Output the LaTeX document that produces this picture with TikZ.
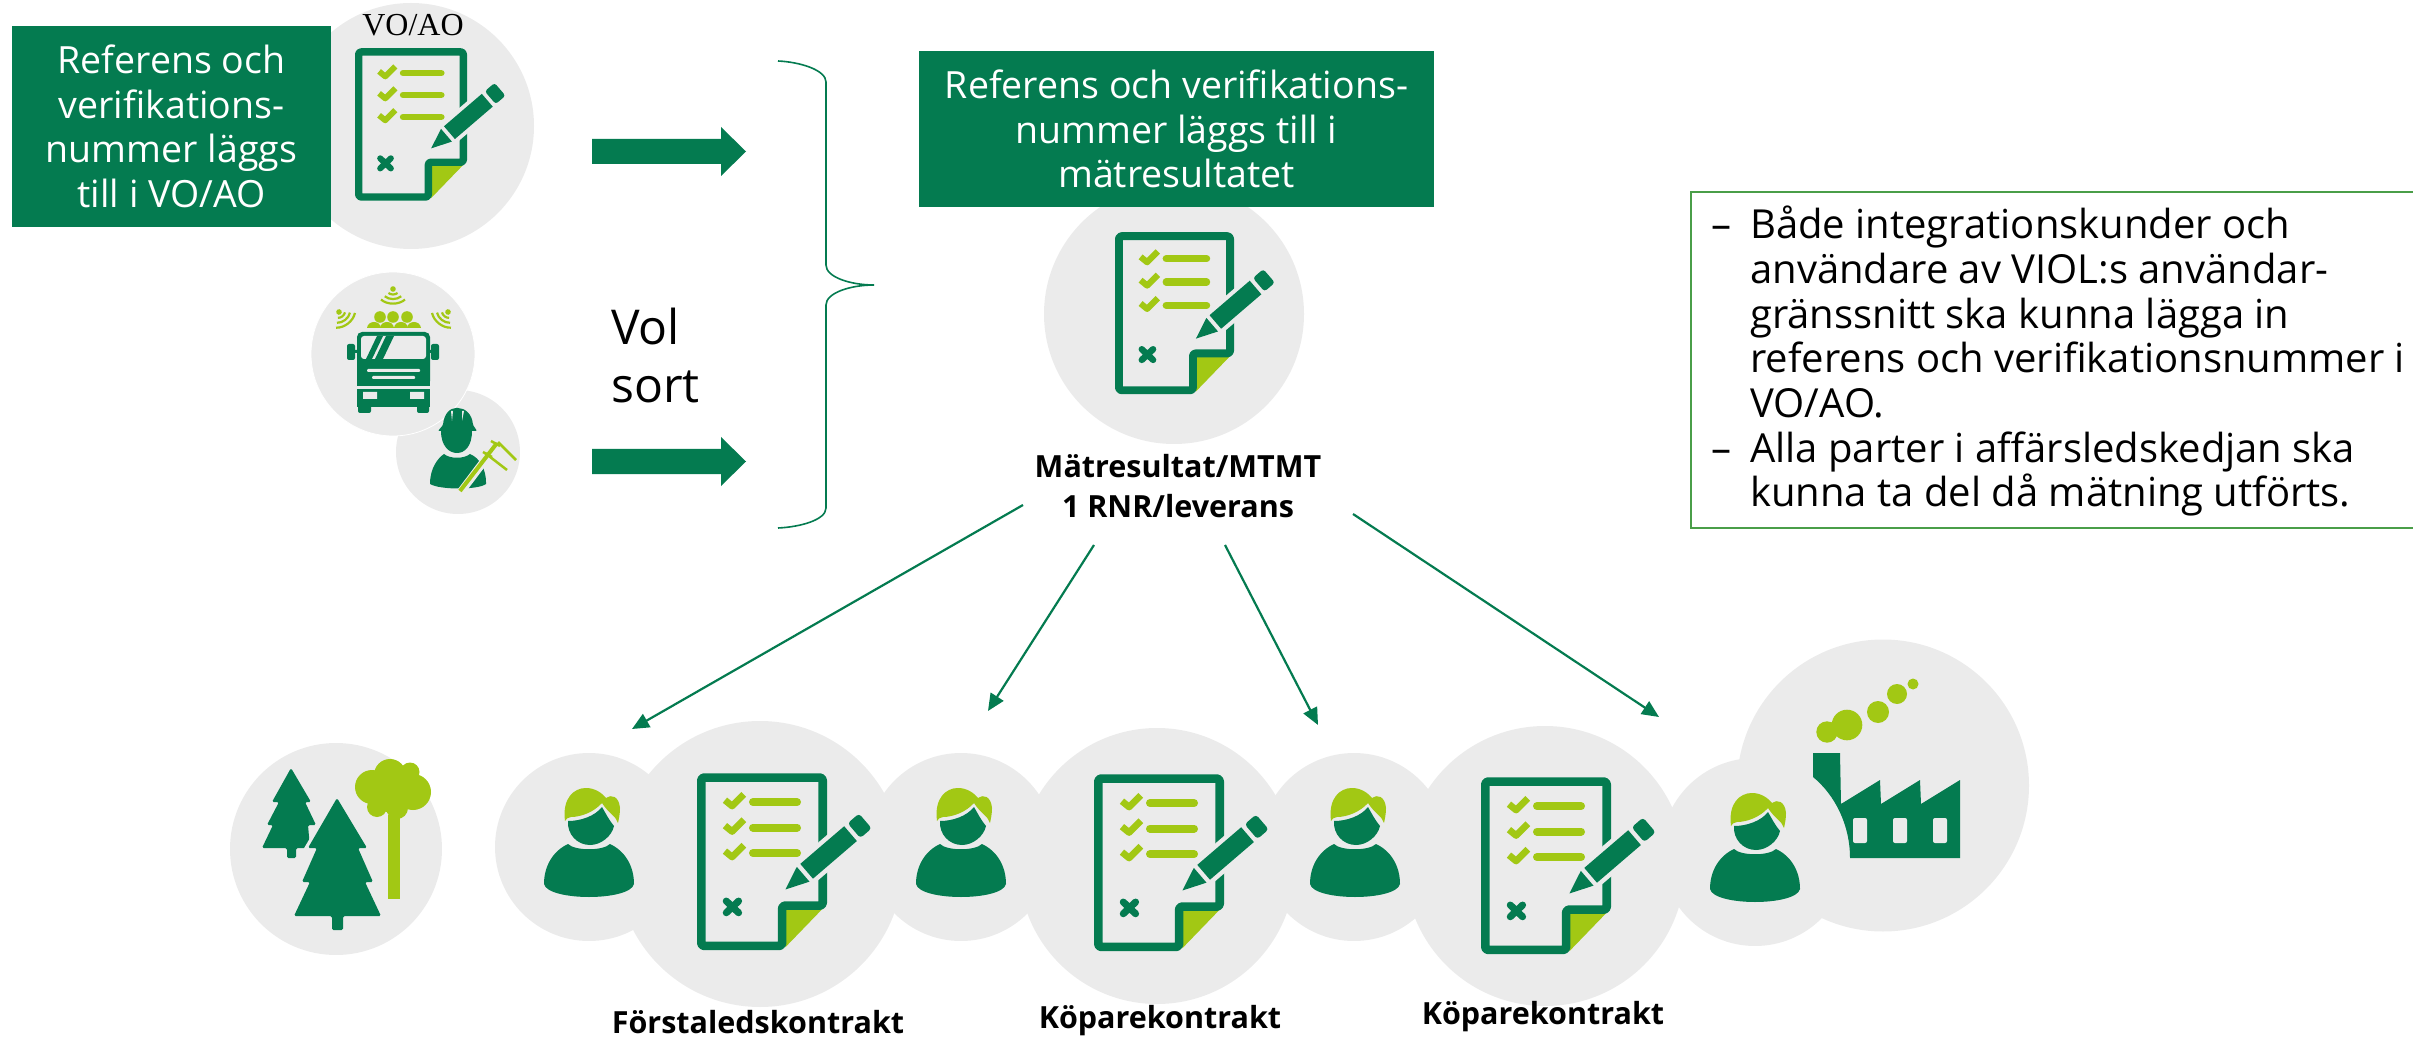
\documentclass[tikz,border=0pt]{standalone}
\usepackage{fontspec}
\setmainfont{Open Sans}
\newfontfamily\serifvo{Liberation Serif}
\usetikzlibrary{arrows.meta}
\definecolor{dgreen}{HTML}{047B50}
\definecolor{lime}{HTML}{A2C814}
\definecolor{lgray}{HTML}{EBEBEB}
\definecolor{boxline}{HTML}{4A9E48}
\tikzset{
  disc/.style={circle,fill=lgray,inner sep=0pt},
  greenbox/.style={fill=dgreen,text=white,inner sep=0pt,align=center,font=\fontsize{37.5}{44.5}\selectfont},
  flow/.style={draw=dgreen,line width=2.2pt,-{Triangle[length=17pt,width=15pt]}},
  blockarrow/.style={fill=dgreen},
  caption/.style={inner sep=0pt,anchor=base,font=\bfseries\fontsize{30.5}{39}\selectfont,align=center},
  sigline/.style={draw=lime,line width=2.2pt},
}
% document icon: #1,#2 top left, #3 scale (width/100)
\newcommand{\docicon}[3]{%
\begin{scope}[shift={(#1,#2)},x=#3pt,y=-#3pt]
  \fill[lime] (67,104) -- (97,104) -- (68,134) -- cycle;
  \draw[dgreen,line width=6.6*#3pt,rounded corners=2.2*#3pt,line join=round]
    (3.3,3.5) -- (96.7,3.5) -- (96.7,102) -- (65.5,102) -- (65.5,133) -- (3.3,133) -- cycle;
  \foreach \v in {22.4,42,61.6}{
    \draw[lime,line width=6*#3pt,line cap=round] (43,\v) -- (77,\v);
    \draw[lime,line width=5.2*#3pt,line join=round] (21.5,\v-1.5) -- (27,\v+3) -- (36,\v-6);
  }
  \draw[dgreen,line width=5.4*#3pt,line cap=round] (22.5,98.5) -- (32,107.5) (32,98.5) -- (22.5,107.5);
  \begin{scope}[shift={(68,89.6)},rotate=40.6]
    \fill[lgray] (-5,0) -- (17,-11) -- (84,-11) -- (84,11) -- (17,11) -- cycle;
    \fill[dgreen] (0,0) -- (18,-7.5) -- (18,7.5) -- cycle;
    \fill[dgreen] (21.5,-7.5) rectangle (66,7.5);
    \fill[dgreen,rounded corners=2.5*#3pt] (69.5,-7.5) rectangle (81,7.5);
  \end{scope}
\end{scope}}
% person icon: #1 centre x, #2 top of hair
\newcommand{\personicon}[2]{%
\begin{scope}[shift={(#1,#2)}]
  \fill[dgreen] (-21,56) .. controls (-14,63) and (14,63) .. (21,56)
     .. controls (36,63) and (45,78) .. (45,96)
     .. controls (43,105) and (20,109) .. (0,109)
     .. controls (-20,109) and (-43,105) .. (-45,96)
     .. controls (-45,78) and (-36,63) .. (-21,56) -- cycle;
  \fill[dgreen] (-21,33) .. controls (-8,33) and (6,28) .. (13,19)
     .. controls (17,26) and (20,32) .. (25,38)
     .. controls (23,48) and (12,57) .. (1,57)
     .. controls (-12,57) and (-22,46) .. (-21,33) -- cycle;
  \fill[lime] (-24,33) .. controls (-27,10) and (-15,0) .. (-3,0)
     .. controls (6,0) and (13,5) .. (17,10)
     .. controls (22,6) and (30,8) .. (31,20)
     .. controls (31,26) and (30,30) .. (29,35)
     .. controls (27,28) and (20,26) .. (13,15)
     .. controls (5,24) and (-8,29) .. (-18,29)
     .. controls (-21,29) and (-23,31) .. (-24,33) -- cycle;
\end{scope}}
% radio signal: #1,#2 dot, #3 rotation
\newcommand{\sigarc}[3]{%
\begin{scope}[shift={(#1,#2)},rotate=#3]
  \fill[lime] (0,0) circle[radius=2.8];
  \foreach \r in {6,11,16}{
    \draw[sigline] (-.75*\r,.66*\r) .. controls (-.35*\r,\r) and (.35*\r,\r) .. (.75*\r,.66*\r);
  }
\end{scope}}
\begin{document}
\begin{tikzpicture}[x=1pt,y=-1pt]
\useasboundingbox (0,0) rectangle (2413,1040);

% ---- discs
\node[disc,minimum size=246pt] (cvo) at (411,126) {};
\node[disc,minimum size=124pt] (cworker) at (458,452) {};
\node[disc,minimum size=164pt,draw=white,line width=.8pt] (ctruck) at (393,354) {};
\node[disc,minimum size=260pt] (cmid) at (1174,314) {};
\node[disc,minimum size=212pt] (ctree) at (336,849) {};
\node[disc,minimum size=188pt] (cp1) at (589,847) {};
\node[disc,minimum size=286pt] (cd1) at (760,864) {};
\node[disc,minimum size=188pt] (cp2) at (961,847) {};
\node[disc,minimum size=276pt] (cd2) at (1157,866) {};
\node[disc,minimum size=188pt] (cp3) at (1354,847) {};
\node[disc,minimum size=280pt] (cd3) at (1545,866) {};
\node[disc,minimum size=292pt] (cfac) at (1883,785.5) {};
\node[disc,minimum size=188pt] (cp4) at (1755,852) {};

% ---- documents
\docicon{355}{48}{1.12}
\docicon{1115}{232}{1.19}
\docicon{697}{773}{1.30}
\docicon{1094}{774}{1.30}
\docicon{1481}{777}{1.30}

% ---- persons
\personicon{589}{788}
\personicon{961}{788}
\personicon{1355}{788}
\personicon{1755}{793}

% ---- trees
\fill[dgreen,rounded corners=1.5pt] (291,768) -- (272,802) -- (279,802) -- (267,825) -- (273,825) -- (262,848)
   -- (287,848) -- (287,858) -- (296,858) -- (296,848) -- (310,848) -- (308,825) -- (316,825) -- (305,802) -- (311,802) -- cycle;
\fill[lgray] (337,792) -- (303,850) -- (296,885) -- (345,900) -- cycle;
\fill[dgreen,rounded corners=1.5pt] (337,798) -- (308,848) -- (317,848) -- (302,882) -- (310,882) -- (294,916)
   -- (332,916) -- (332,930) -- (343,930) -- (343,916) -- (381,916) -- (365,882) -- (373,882) -- (358,848) -- (367,848) -- cycle;
\fill[lime] (388,815) rectangle (400,899);
\fill[lime] (372,787) circle[radius=17] (390,775) circle[radius=16] (410,772) circle[radius=9.5]
  (413,792) circle[radius=18] (393,793) circle[radius=20] (377,807) circle[radius=10] (397,808) circle[radius=11];

% ---- factory
\fill[lime] (1827,732) circle[radius=10.7] (1847,725) circle[radius=15.3] (1878,712) circle[radius=11]
  (1897,694) circle[radius=10] (1913,684) circle[radius=5.5];
\fill[dgreen,even odd rule] (1813,753) -- (1840,753) -- (1841,804) -- (1880,780) -- (1881,804) -- (1920,780) -- (1921,804) -- (1960,780)
   -- (1960,858) -- (1850,858) .. controls (1850,825) and (1835,795) .. (1813,777) -- cycle;
\foreach \wx in {1853,1893,1933}{
  \fill[lgray,rounded corners=2pt] (\wx,818) rectangle ++(14,25);
}

% ---- truck
\fill[dgreen,rounded corners=5pt] (357,386) -- (357,332) -- (430,332) -- (430,386) -- cycle;
\fill[dgreen] (357,378) rectangle (430,386);
\fill[dgreen] (357,389) rectangle (430,407);
\fill[dgreen,rounded corners=2pt] (358,400) rectangle (371,413) (417,400) rectangle (429,413);
\fill[dgreen,rounded corners=2pt] (347,344) rectangle (355,360) (431,344) rectangle (439,360);
\fill[dgreen] (354,350) rectangle (358,353) (429,350) rectangle (432,353);
\fill[lgray,rounded corners=3pt] (361,336) rectangle (426,359);
\fill[dgreen] (377,336) -- (383,336) -- (372,359) -- (366,359) -- cycle;
\fill[dgreen] (386,336) -- (394,336) -- (383,359) -- (375,359) -- cycle;
\fill[lgray,rounded corners=1pt] (367,369) rectangle (420,372) (372,376) rectangle (415,379);
\fill[lgray] (363,392) rectangle (377,399) (410,392) rectangle (424,399);
\fill[lime] (380,317) circle[radius=5.8] (393,317) circle[radius=5.8] (407,317) circle[radius=5.8];
\foreach \lx in {374,387,401,414}{
  \fill[lime] (\lx-7,328) .. controls (\lx-6,320) and (\lx+6,320) .. (\lx+7,328) -- cycle;
}
\sigarc{393}{289}{0}
\sigarc{339}{312}{38}
\sigarc{448}{312}{-38}

% ---- worker
\fill[dgreen] (430,484) .. controls (430,468) and (438,458) .. (444,454)
   .. controls (450,459) and (464,459) .. (470,454)
   .. controls (480,458) and (486,470) .. (486,482) -- (486,484)
   .. controls (478,490) and (440,490) .. (430,484) -- cycle;
\fill[dgreen] (441,431) .. controls (441,446) and (449,453) .. (457,453)
   .. controls (465,453) and (472,446) .. (472,431) -- cycle;
\fill[dgreen,rounded corners=1pt] (438,431) -- (443,425) .. controls (444,414) and (450,408) .. (457,408)
   .. controls (465,408) and (472,414) .. (473,425) -- (477,431) -- cycle;
\fill[lgray] (451,411) -- (453,411) -- (452,421) -- cycle (462,411) -- (464,411) -- (462,421) -- cycle;
\draw[lgray,line width=8pt] (460,493) -- (500,440);
\draw[lime,line width=4pt] (460,491) -- (497,443);
\draw[lime,line width=2.5pt] (491,441) -- (500,446) (483,452) -- (492,457);
\draw[lime,line width=2.5pt] (498,442) -- (516,460) (485,453) -- (507,470);

% ---- block arrows
\fill[blockarrow] (592,139) -- (721,139) -- (721,127) -- (746,151.5) -- (721,176) -- (721,164) -- (592,164) -- cycle;
\fill[blockarrow] (592,449) -- (721,449) -- (721,437) -- (746,461.5) -- (721,486) -- (721,474) -- (592,474) -- cycle;

% ---- brace
\coordinate (bt) at (778,61);
\coordinate (bb) at (778,528);
\draw[dgreen,line width=1.6pt] (bt) .. controls (800,62) and (826,70) .. (826,82) -- (826,265)
   .. controls (826,277) and (850,285) .. (874,285)
   .. controls (850,285) and (826,293) .. (826,305) -- (826,508)
   .. controls (826,520) and (800,527) .. (bb);

% ---- green boxes and texts
\node[greenbox,minimum width=319pt,minimum height=201pt] (box1) at (171.5,126.5) {Referens och\\verifikations-\\nummer läggs\\till i VO/AO};
\node[greenbox,minimum width=515pt,minimum height=156pt] (box2) at (1176.5,129) {Referens och verifikations-\\nummer läggs till i\\mätresultatet};
\node[inner sep=0pt,anchor=base,font=\serifvo\fontsize{32}{36}\selectfont] (vo) at (413,36) {VO/AO};
\node[inner sep=0pt,anchor=base west,font=\fontsize{48}{58}\selectfont] (vol) at (611,345) {Vol};
\node[inner sep=0pt,anchor=base west,font=\fontsize{48}{58}\selectfont] (sort) at (611,403) {sort};
\node[caption] (mt1) at (1178,478) {Mätresultat/MTMT};
\node[caption] (mt2) at (1178,517) {1 RNR/leverans};
\node[caption] (k1) at (758,1033) {Förstaledskontrakt};
\node[caption] (k2) at (1160,1028) {Köparekontrakt};
\node[caption] (k3) at (1543,1024) {Köparekontrakt};

% ---- flows
\coordinate (a1s) at (1023,505); \coordinate (a1e) at (632,729);
\coordinate (a2s) at (1094,545); \coordinate (a2e) at (988,711);
\coordinate (a3s) at (1225,545); \coordinate (a3e) at (1318,725);
\coordinate (a4s) at (1353,514); \coordinate (a4e) at (1659,717);
\draw[flow] (a1s) -- (a1e);
\draw[flow] (a2s) -- (a2e);
\draw[flow] (a3s) -- (a3e);
\draw[flow] (a4s) -- (a4e);

% ---- note box
\coordinate (nt) at (2413,192);
\coordinate (nb) at (2413,528);
\draw[boxline,line width=2.5pt] (nt) -- (1691,192) -- (1691,528) -- (nb);
\node[inner sep=0pt,anchor=north west,align=left,font=\fontsize{40}{44.7}\selectfont] (note) at (1750,206) {%
\llap{–\hspace{19pt}}Både integrationskunder och\\
användare av VIOL:s användar-\\
gränssnitt ska kunna lägga in\\
referens och verifikationsnummer i\\
VO/AO.\\
\llap{–\hspace{19pt}}Alla parter i affärsledskedjan ska\\
kunna ta del då mätning utförts.};
\end{tikzpicture}
\end{document}
